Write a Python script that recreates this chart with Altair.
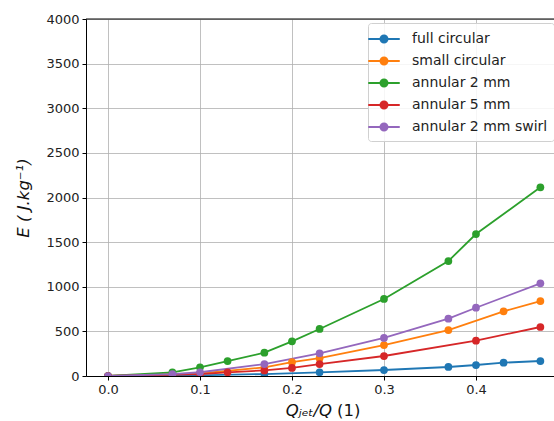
import altair as alt
import pandas as pd

series_names = ["full circular", "small circular", "annular 2 mm", "annular 5 mm", "annular 2 mm swirl"]
colors = ["#1f77b4", "#ff7f0e", "#2ca02c", "#d62728", "#9467bd"]

x_full = [0, 0.1, 0.17, 0.23, 0.3, 0.37, 0.4, 0.43, 0.47]
e_full = [0, 8, 22, 41, 67, 101, 123, 149, 168]

x_small = [0, 0.1, 0.17, 0.2, 0.23, 0.3, 0.37, 0.43, 0.47]
e_small = [0, 28, 97, 155, 200, 347, 515, 725, 840]

x_ann2 = [0, 0.07, 0.1, 0.13, 0.17, 0.2, 0.23, 0.3, 0.37, 0.4, 0.47]
e_ann2 = [0, 41, 97, 168, 261, 388, 527, 863, 1288, 1591, 2114]

x_ann5 = [0, 0.1, 0.13, 0.17, 0.2, 0.23, 0.3, 0.4, 0.47]
e_ann5 = [0, 20, 41, 63, 90, 134, 224, 396, 549]

x_swirl = [0, 0.07, 0.1, 0.17, 0.23, 0.3, 0.37, 0.4, 0.47]
e_swirl = [0, 20, 42, 134, 254, 426, 642, 765, 1038]

x_ticks = [0.0, 0.1, 0.2, 0.3, 0.4]
y_ticks = [0, 500, 1000, 1500, 2000, 2500, 3000, 3500, 4000]

x_title_main = "Qⱼₑₜ/Q"
x_title_unit = "(1)"
y_title = "E ( J.kg⁻¹)"

rows = []
for name, xs, es in zip(series_names,
                        [x_full, x_small, x_ann2, x_ann5, x_swirl],
                        [e_full, e_small, e_ann2, e_ann5, e_swirl]):
    for xv, ev in zip(xs, es):
        rows.append({"series": name, "q": xv, "E": ev})
df = pd.DataFrame(rows)

FONT = "DejaVu Sans"
W, H = 468, 357

cscale = alt.Scale(domain=series_names, range=colors)

color = alt.Color(
    "series:N",
    scale=cscale,
    sort=series_names,
    legend=alt.Legend(
        title=None,
        orient="none",
        legendX=282,
        legendY=4,
        symbolType="M-1.75,0H1.75M0.4,0A0.4,0.4 0 1 1 -0.4,0A0.4,0.4 0 1 1 0.4,0Z",
        symbolSize=324,
        symbolStrokeWidth=1.8,
        labelFont=FONT,
        labelFontSize=14,
        labelColor="#222",
        rowPadding=4,
        padding=6,
        fillColor="rgba(255,255,255,0.85)",
        strokeColor="#d0d0d0",
        cornerRadius=3,
        labelOffset=18,
    ),
)

x = alt.X(
    "q:Q",
    scale=alt.Scale(domain=[-0.0239, 0.4848], nice=False, zero=False),
    axis=alt.Axis(title=None, values=x_ticks, format=".1f"),
)
y = alt.Y(
    "E:Q",
    scale=alt.Scale(domain=[0, 4000], nice=False),
    axis=alt.Axis(title=y_title, values=y_ticks, format="d", titleFontStyle="italic"),
)

lines = alt.Chart(df).mark_line(strokeWidth=1.8, clip=True).encode(
    x=x, y=y, color=color, detail="series:N"
)
points = alt.Chart(df).mark_point(filled=True, size=60, opacity=1, clip=True).encode(
    x=x, y=y,
    color=alt.Color("series:N", scale=cscale, legend=None),
    fill=alt.Fill("series:N", scale=cscale, legend=None),
)

title_df = pd.DataFrame({"t": [x_title_main]})
unit_df = pd.DataFrame({"t": [x_title_unit]})
xt_main = alt.Chart(title_df).mark_text(
    font=FONT, fontSize=16.5, fontStyle="italic", align="right", baseline="alphabetic", color="#111"
).encode(text="t:N", x=alt.value(246), y=alt.value(H + 40))
xt_unit = alt.Chart(unit_df).mark_text(
    font=FONT, fontSize=16.5, align="left", baseline="alphabetic", color="#111"
).encode(text="t:N", x=alt.value(251), y=alt.value(H + 40))

top_spine = alt.Chart(title_df).mark_rule(color="black", strokeWidth=1).encode(
    x=alt.value(0), x2=alt.value(W), y=alt.value(0)
)

chart = (
    alt.layer(lines, points, top_spine, xt_main, xt_unit)
    .properties(
        width=W,
        height=H,
        padding={"left": 86, "top": 19, "right": 0, "bottom": 45},
        autosize=alt.AutoSizeParams(type="none"),
        background="white",
    )
    .configure_view(stroke=None)
    .configure_axis(
        labelFont=FONT,
        labelFontSize=13,
        labelColor="#222",
        titleFont=FONT,
        titleFontSize=16.5,
        titleFontWeight="normal",
        titleColor="#111",
        grid=True,
        gridColor="#b0b0b0",
        gridWidth=0.8,
        domainColor="black",
        domainWidth=1,
        tickColor="black",
        tickSize=4,
        labelPadding=3,
    )
    .configure_axisY(titlePadding=14)
    .configure_axisX(labelFlush=False)
)

chart.save("out.html", embed_options={"renderer": "svg", "actions": False})
